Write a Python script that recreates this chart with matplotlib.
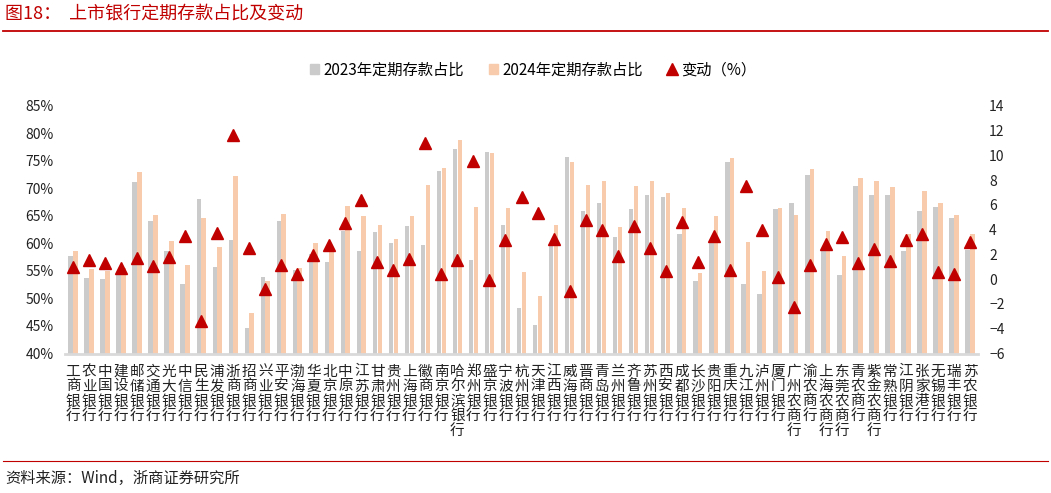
import matplotlib
matplotlib.use("Agg")
import matplotlib.pyplot as plt
import numpy as np
from matplotlib.lines import Line2D
from matplotlib.patches import Patch

plt.rcParams['font.family'] = ['Noto Sans CJK SC', 'DejaVu Sans']

banks = ['工商银行', '农业银行', '中国银行', '建设银行', '邮储银行', '交通银行', '光大银行',
         '中信银行', '民生银行', '浦发银行', '浙商银行', '招商银行', '兴业银行', '平安银行',
         '渤海银行', '华夏银行', '北京银行', '中原银行', '江苏银行', '甘肃银行', '贵州银行',
         '上海银行', '徽商银行', '南京银行', '哈尔滨银行', '郑州银行', '盛京银行', '宁波银行',
         '杭州银行', '天津银行', '江西银行', '威海银行', '晋商银行', '青岛银行', '兰州银行',
         '齐鲁银行', '苏州银行', '西安银行', '成都银行', '长沙银行', '贵阳银行', '重庆银行',
         '九江银行', '泸州银行', '厦门银行', '广州农商行', '渝农商行', '上海农商行', '东莞农商行',
         '青农商行', '紫金农商行', '常熟银行', '江阴银行', '张家港行', '无锡银行', '瑞丰银行',
         '苏农银行']

share_2023 = [57.8, 53.8, 53.5, 54.7, 71.2, 64.0, 58.6, 52.6, 68.0, 55.7, 60.6, 44.7, 53.9, 64.1,
              55.1, 58.1, 56.6, 62.3, 58.6, 62.0, 60.1, 63.1, 59.7, 73.2, 77.2, 57.0, 76.6, 63.3,
              48.2, 45.1, 60.0, 75.7, 65.8, 67.3, 61.1, 66.2, 68.8, 68.5, 61.8, 53.1, 60.3, 74.8,
              52.6, 50.9, 66.3, 67.3, 72.4, 58.9, 54.3, 70.5, 68.8, 68.8, 58.7, 65.8, 66.7, 64.6,
              58.8]

share_2024 = [58.7, 55.3, 54.9, 55.6, 73.0, 65.1, 60.4, 56.1, 64.7, 59.4, 72.3, 47.3, 53.1, 65.3,
              55.6, 60.0, 59.4, 66.8, 65.0, 63.4, 60.8, 64.9, 70.6, 73.7, 78.8, 66.6, 76.5, 66.4,
              54.8, 50.5, 63.3, 74.8, 70.6, 71.3, 63.0, 70.5, 71.3, 69.2, 66.5, 54.6, 65.0, 75.6,
              60.2, 55.0, 66.4, 65.1, 73.5, 62.3, 57.7, 71.8, 71.3, 70.3, 61.8, 69.5, 67.3, 65.1,
              61.8]

change = [0.96, 1.52, 1.31, 0.90, 1.74, 1.04, 1.79, 3.49, -3.35, 3.70, 11.67, 2.54, -0.79, 1.14,
          0.42, 1.93, 2.73, 4.51, 6.39, 1.39, 0.71, 1.66, 10.97, 0.44, 1.55, 9.54, -0.07, 3.16,
          6.66, 5.32, 3.21, -0.98, 4.80, 3.94, 1.84, 4.27, 2.54, 0.66, 4.62, 1.39, 3.49, 0.74,
          7.55, 3.97, 0.15, -2.22, 1.12, 2.81, 3.41, 1.31, 2.46, 1.49, 3.14, 3.62, 0.55, 0.44,
          3.00]

gray = '#CBCBCB'
peach = '#F8CBAD'
red = '#C00000'

fig = plt.figure(figsize=(10.51, 4.93), dpi=100)
ax = fig.add_axes([65 / 1051, 1 - 353.5 / 493, 913 / 1051, (353.5 - 105.8) / 493])
ax2 = ax.twinx()

x = np.arange(len(banks))
w = 0.28
ax.bar(x - 0.15, share_2023, width=w, color=gray, zorder=2)
ax.bar(x + 0.15, share_2024, width=w, color=peach, zorder=2)
ax2.plot(x, change, linestyle='none', marker='^', markersize=8.5, color=red, zorder=3)

ax.set_xlim(-0.5, len(banks) - 0.5)
ax.set_ylim(40, 85)
ax.set_yticks(np.arange(40, 86, 5))
ax.set_yticklabels([f'{v}%' for v in range(40, 86, 5)])
ax2.set_ylim(-6, 14)
ax2.set_yticks(np.arange(-6, 15, 2))
ax2.set_yticklabels([str(v).replace('-', '\u2212') for v in range(-6, 15, 2)])

ax.set_xticks(x)
ax.set_xticklabels(['\n'.join(b) for b in banks], fontsize=10.5, linespacing=1.08, va='top')

for a in (ax, ax2):
    for s in ('top', 'left', 'right'):
        a.spines[s].set_visible(False)
    a.tick_params(length=0, labelsize=10, colors='#222222')
ax.tick_params(axis='x', labelsize=10.5)
ax.spines['bottom'].set_color('#D9D9D9')
ax.spines['bottom'].set_linewidth(2)
ax2.spines['bottom'].set_visible(False)
ax.tick_params(axis='x', pad=8)
ax.tick_params(axis='y', pad=8)
ax2.tick_params(axis='y', pad=8)

handles = [Patch(color=gray), Patch(color=peach),
           Line2D([], [], linestyle='none', marker='^', markersize=8, color=red)]
fig.legend(handles, ['2023年定期存款占比', '2024年定期存款占比', '变动（%）'],
           loc='center', bbox_to_anchor=(533 / 1051, 1 - 70 / 493), ncol=3, frameon=False,
           fontsize=11, handlelength=0.6, handleheight=0.6, handletextpad=0.3, columnspacing=1.6)

fig.text(5 / 1051, 1 - 14 / 493, '图18：  上市银行定期存款占比及变动', color=red, fontsize=13,
         ha='left', va='center')
fig.add_artist(Line2D([3 / 1051, 1048 / 1051], [1 - 31 / 493, 1 - 31 / 493], color=red, lw=1.3))
fig.add_artist(Line2D([3 / 1051, 1048 / 1051], [1 - 461 / 493, 1 - 461 / 493], color=red, lw=0.8))
fig.text(5 / 1051, 1 - 478 / 493, '资料来源：Wind，浙商证券研究所', color='#222222', fontsize=11,
         ha='left', va='center')

fig.savefig('out.png', dpi=100)
